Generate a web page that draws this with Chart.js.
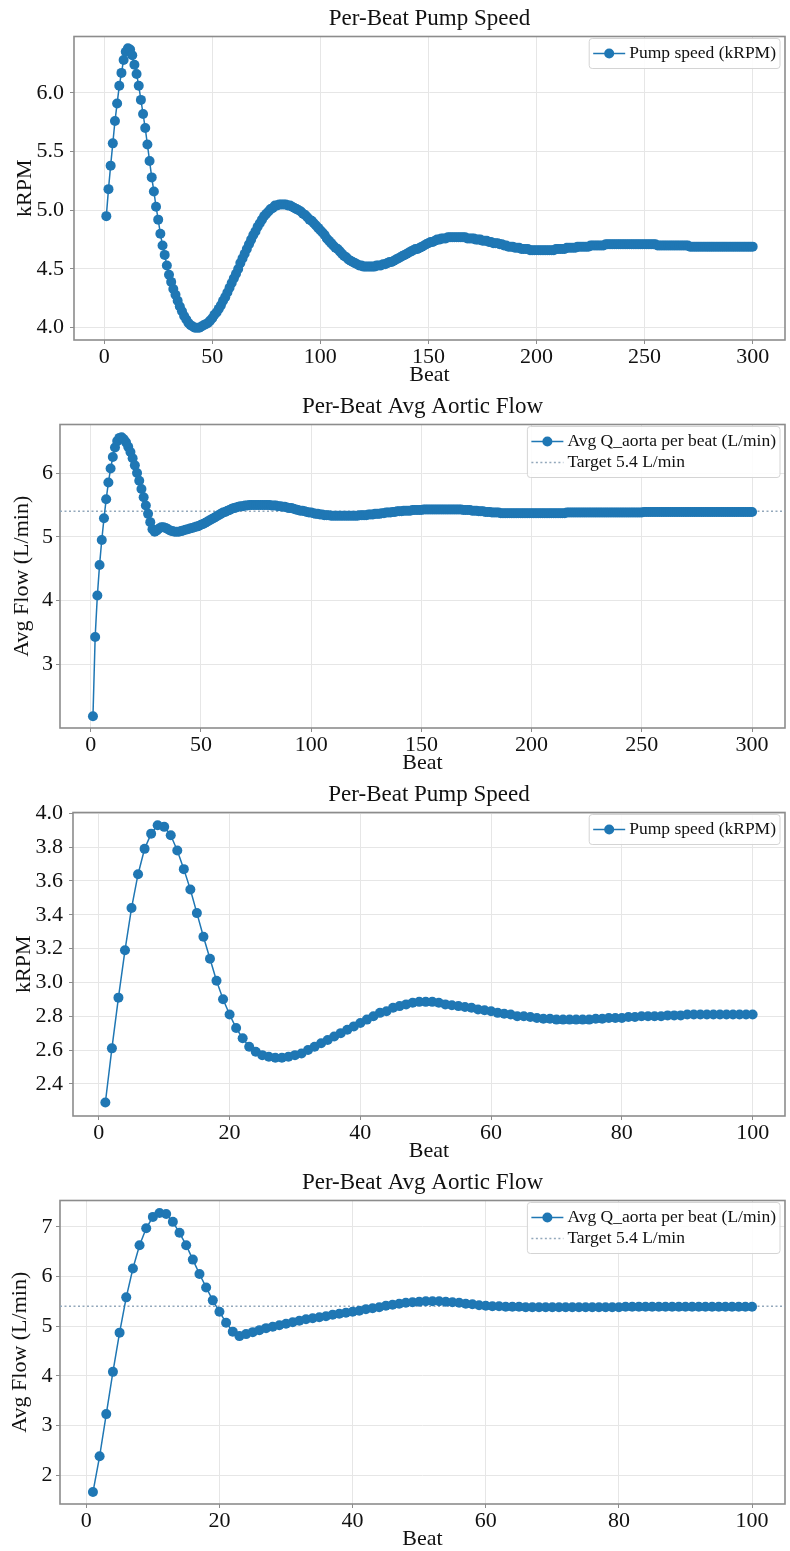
<!DOCTYPE html>
<html>
<head>
<meta charset="utf-8">
<title>Per-Beat Pump Speed and Aortic Flow</title>
<script src="https://cdn.jsdelivr.net/npm/chart.js"></script>
<style>
  html, body { margin: 0; padding: 0; background: #fff; }
  .panel { position: absolute; left: 0; width: 790px; height: 388px; }
</style>
</head>
<body>
<div class="panel" style="top:0px"><canvas id="speedLong" width="790" height="388"></canvas></div>
<div class="panel" style="top:388px"><canvas id="flowLong" width="790" height="388"></canvas></div>
<div class="panel" style="top:776px"><canvas id="speedShort" width="790" height="388"></canvas></div>
<div class="panel" style="top:1164px"><canvas id="flowShort" width="790" height="388"></canvas></div>
<script>
// Data (one value per beat, beat 1 first)
const pumpSpeed300 = [
  4.95, 5.18, 5.38, 5.57, 5.76, 5.91, 6.06, 6.17, 6.28, 6.35,
  6.38, 6.37, 6.32, 6.24, 6.16, 6.06, 5.94, 5.82, 5.70, 5.56,
  5.42, 5.28, 5.16, 5.03, 4.92, 4.80, 4.70, 4.62, 4.53, 4.45,
  4.39, 4.33, 4.28, 4.23, 4.18, 4.14, 4.10, 4.07, 4.04, 4.02,
  4.01, 4.00, 4.00, 4.00, 4.01, 4.02, 4.03, 4.04, 4.06, 4.08,
  4.11, 4.13, 4.16, 4.19, 4.23, 4.26, 4.30, 4.34, 4.38, 4.42,
  4.46, 4.50, 4.55, 4.59, 4.63, 4.67, 4.71, 4.75, 4.79, 4.82,
  4.86, 4.89, 4.92, 4.95, 4.97, 4.99, 5.01, 5.02, 5.04, 5.04,
  5.05, 5.05, 5.05, 5.05, 5.04, 5.04, 5.03, 5.02, 5.01, 5.00,
  4.99, 4.97, 4.96, 4.94, 4.92, 4.91, 4.89, 4.87, 4.85, 4.83,
  4.81, 4.79, 4.76, 4.74, 4.72, 4.70, 4.68, 4.67, 4.65, 4.63,
  4.61, 4.60, 4.58, 4.57, 4.56, 4.55, 4.54, 4.53, 4.53, 4.52,
  4.52, 4.52, 4.52, 4.52, 4.52, 4.53, 4.53, 4.53, 4.54, 4.54,
  4.55, 4.56, 4.56, 4.57, 4.58, 4.59, 4.60, 4.61, 4.62, 4.63,
  4.64, 4.65, 4.66, 4.67, 4.67, 4.68, 4.69, 4.70, 4.71, 4.72,
  4.73, 4.73, 4.74, 4.75, 4.75, 4.76, 4.76, 4.76, 4.77, 4.77,
  4.77, 4.77, 4.77, 4.77, 4.77, 4.77, 4.77, 4.76, 4.76, 4.76,
  4.76, 4.75, 4.75, 4.75, 4.74, 4.74, 4.74, 4.73, 4.73, 4.72,
  4.72, 4.72, 4.71, 4.71, 4.70, 4.70, 4.69, 4.69, 4.69, 4.68,
  4.68, 4.68, 4.67, 4.67, 4.67, 4.67, 4.66, 4.66, 4.66, 4.66,
  4.66, 4.66, 4.66, 4.66, 4.66, 4.66, 4.66, 4.66, 4.67, 4.67,
  4.67, 4.67, 4.67, 4.68, 4.68, 4.68, 4.68, 4.68, 4.69, 4.69,
  4.69, 4.69, 4.69, 4.69, 4.70, 4.70, 4.70, 4.70, 4.70, 4.70,
  4.70, 4.71, 4.71, 4.71, 4.71, 4.71, 4.71, 4.71, 4.71, 4.71,
  4.71, 4.71, 4.71, 4.71, 4.71, 4.71, 4.71, 4.71, 4.71, 4.71,
  4.71, 4.71, 4.71, 4.71, 4.71, 4.70, 4.70, 4.70, 4.70, 4.70,
  4.70, 4.70, 4.70, 4.70, 4.70, 4.70, 4.70, 4.70, 4.70, 4.70,
  4.69, 4.69, 4.69, 4.69, 4.69, 4.69, 4.69, 4.69, 4.69, 4.69,
  4.69, 4.69, 4.69, 4.69, 4.69, 4.69, 4.69, 4.69, 4.69, 4.69,
  4.69, 4.69, 4.69, 4.69, 4.69, 4.69, 4.69, 4.69, 4.69, 4.69,
];

const aorticFlow300 = [
  2.19, 3.43, 4.08, 4.56, 4.95, 5.29, 5.59, 5.85, 6.07, 6.25,
  6.40, 6.50, 6.55, 6.56, 6.53, 6.48, 6.41, 6.33, 6.23, 6.12,
  6.00, 5.88, 5.75, 5.62, 5.49, 5.36, 5.23, 5.12, 5.08, 5.10,
  5.13, 5.15, 5.15, 5.14, 5.12, 5.10, 5.09, 5.08, 5.08, 5.08,
  5.09, 5.10, 5.11, 5.12, 5.13, 5.14, 5.15, 5.16, 5.17, 5.19,
  5.20, 5.22, 5.24, 5.26, 5.28, 5.30, 5.32, 5.34, 5.36, 5.38,
  5.39, 5.41, 5.42, 5.44, 5.45, 5.46, 5.47, 5.48, 5.48, 5.49,
  5.49, 5.50, 5.50, 5.50, 5.50, 5.50, 5.50, 5.50, 5.50, 5.50,
  5.50, 5.49, 5.49, 5.49, 5.48, 5.48, 5.47, 5.47, 5.46, 5.45,
  5.45, 5.44, 5.43, 5.42, 5.41, 5.41, 5.40, 5.39, 5.38, 5.38,
  5.37, 5.36, 5.36, 5.35, 5.35, 5.34, 5.34, 5.34, 5.33, 5.33,
  5.33, 5.33, 5.33, 5.33, 5.33, 5.33, 5.33, 5.33, 5.33, 5.33,
  5.33, 5.34, 5.34, 5.34, 5.34, 5.35, 5.35, 5.35, 5.36, 5.36,
  5.36, 5.37, 5.37, 5.38, 5.38, 5.38, 5.39, 5.39, 5.40, 5.40,
  5.40, 5.41, 5.41, 5.41, 5.41, 5.42, 5.42, 5.42, 5.42, 5.42,
  5.43, 5.43, 5.43, 5.43, 5.43, 5.43, 5.43, 5.43, 5.43, 5.43,
  5.43, 5.43, 5.43, 5.43, 5.43, 5.43, 5.43, 5.43, 5.42, 5.42,
  5.42, 5.42, 5.41, 5.41, 5.41, 5.40, 5.40, 5.40, 5.39, 5.39,
  5.39, 5.38, 5.38, 5.38, 5.38, 5.37, 5.37, 5.37, 5.37, 5.37,
  5.37, 5.37, 5.37, 5.37, 5.37, 5.37, 5.37, 5.37, 5.37, 5.37,
  5.37, 5.37, 5.37, 5.37, 5.37, 5.37, 5.37, 5.37, 5.37, 5.37,
  5.37, 5.37, 5.37, 5.37, 5.37, 5.38, 5.38, 5.38, 5.38, 5.38,
  5.38, 5.38, 5.38, 5.38, 5.38, 5.38, 5.38, 5.38, 5.38, 5.38,
  5.38, 5.38, 5.38, 5.38, 5.38, 5.38, 5.38, 5.38, 5.38, 5.38,
  5.38, 5.38, 5.38, 5.38, 5.38, 5.38, 5.38, 5.38, 5.38, 5.38,
  5.39, 5.39, 5.39, 5.39, 5.39, 5.39, 5.39, 5.39, 5.39, 5.39,
  5.39, 5.39, 5.39, 5.39, 5.39, 5.39, 5.39, 5.39, 5.39, 5.39,
  5.39, 5.39, 5.39, 5.39, 5.39, 5.39, 5.39, 5.39, 5.39, 5.39,
  5.39, 5.39, 5.39, 5.39, 5.39, 5.39, 5.39, 5.39, 5.39, 5.39,
  5.39, 5.39, 5.39, 5.39, 5.39, 5.39, 5.39, 5.39, 5.39, 5.39,
];

const pumpSpeed100 = [
  2.29, 2.61, 2.91, 3.19, 3.44, 3.64, 3.79, 3.88, 3.93, 3.92,
  3.87, 3.78, 3.67, 3.55, 3.41, 3.27, 3.14, 3.01, 2.90, 2.81,
  2.73, 2.67, 2.62, 2.59, 2.57, 2.56, 2.555, 2.555, 2.56, 2.57,
  2.58, 2.60, 2.62, 2.64, 2.66, 2.68, 2.70, 2.72, 2.74, 2.76,
  2.78, 2.80, 2.82, 2.83, 2.85, 2.86, 2.87, 2.88, 2.885, 2.885,
  2.885, 2.88, 2.87, 2.865, 2.86, 2.855, 2.85, 2.84, 2.835, 2.83,
  2.82, 2.815, 2.81, 2.80, 2.80, 2.795, 2.79, 2.785, 2.785, 2.78,
  2.78, 2.78, 2.78, 2.78, 2.78, 2.785, 2.785, 2.79, 2.79, 2.79,
  2.795, 2.795, 2.80, 2.80, 2.80, 2.80, 2.805, 2.805, 2.805, 2.81,
  2.81, 2.81, 2.81, 2.81, 2.81, 2.81, 2.81, 2.81, 2.81, 2.81,
];

const aorticFlow100 = [
  1.66, 2.38, 3.23, 4.08, 4.87, 5.58, 6.16, 6.63, 6.97, 7.20,
  7.28, 7.26, 7.10, 6.88, 6.63, 6.34, 6.05, 5.78, 5.52, 5.29,
  5.07, 4.89, 4.80, 4.84, 4.88, 4.92, 4.96, 4.99, 5.02, 5.05,
  5.08, 5.11, 5.14, 5.16, 5.18, 5.20, 5.23, 5.25, 5.27, 5.29,
  5.31, 5.34, 5.36, 5.38, 5.41, 5.43, 5.45, 5.47, 5.48, 5.49,
  5.50, 5.50, 5.50, 5.49, 5.48, 5.47, 5.45, 5.44, 5.42, 5.41,
  5.40, 5.40, 5.39, 5.39, 5.39, 5.38, 5.38, 5.38, 5.38, 5.38,
  5.38, 5.38, 5.38, 5.38, 5.38, 5.38, 5.38, 5.38, 5.38, 5.38,
  5.39, 5.39, 5.39, 5.39, 5.39, 5.39, 5.39, 5.39, 5.39, 5.39,
  5.39, 5.39, 5.39, 5.39, 5.39, 5.39, 5.39, 5.39, 5.39, 5.39,
];

// Beat numbers (x categories)
const beats300 = pumpSpeed300.map((_, i) => i + 1);
const beats100 = pumpSpeed100.map((_, i) => i + 1);

const TARGET_FLOW = 5.4;
const SPEED_LABEL = "Pump speed (kRPM)";
const FLOW_LABEL = "Avg Q_aorta per beat (L/min)";
const TARGET_LABEL = "Target 5.4 L/min";
const SPEED_TITLE = "Per-Beat Pump Speed";
const FLOW_TITLE = "Per-Beat Avg Aortic Flow";

// Styling
const FONT = "'Liberation Serif', 'Times New Roman', Times, serif";
const BLUE = "#1f77b4";
const TEXT = "#111111";
const GRID = "#e6e6e6";
const FRAME = "#8c8c8c";

Chart.defaults.font.family = FONT;
Chart.defaults.color = TEXT;

// Plot frame on all four sides
const frameBox = {
  id: "frameBox",
  beforeDatasetsDraw(chart) {
    const { ctx, chartArea: a } = chart;
    ctx.save();
    ctx.strokeStyle = FRAME;
    ctx.lineWidth = 1.6;
    ctx.strokeRect(a.left, a.top, a.right - a.left, a.bottom - a.top);
    ctx.restore();
  },
};

// Legend drawn inside the plot, upper right
const insideLegend = {
  id: "insideLegend",
  afterDatasetsDraw(chart) {
    const { ctx, chartArea: a } = chart;
    const sets = chart.data.datasets;
    ctx.save();
    ctx.font = `17.5px ${FONT}`;
    const textW = Math.max(...sets.map((d) => ctx.measureText(d.label).width));
    const padX = 4, padY = 4.5, rowH = 21, sampleW = 32, gap = 4;
    const w = padX + sampleW + gap + textW + padX;
    const h = padY * 2 + rowH * sets.length;
    const x0 = a.right - 5 - w;
    const y0 = a.top + 2;

    ctx.beginPath();
    ctx.roundRect(x0, y0, w, h, 3);
    ctx.fillStyle = "rgba(255,255,255,0.85)";
    ctx.fill();
    ctx.strokeStyle = "#d4d4d4";
    ctx.lineWidth = 1;
    ctx.stroke();

    sets.forEach((d, i) => {
      const cy = y0 + padY + rowH * i + rowH / 2;
      ctx.strokeStyle = d.borderColor;
      ctx.lineWidth = d.borderWidth;
      ctx.setLineDash(d.borderDash || []);
      ctx.beginPath();
      ctx.moveTo(x0 + padX, cy);
      ctx.lineTo(x0 + padX + sampleW, cy);
      ctx.stroke();
      ctx.setLineDash([]);
      if (d.pointRadius > 0) {
        ctx.fillStyle = d.pointBackgroundColor;
        ctx.beginPath();
        ctx.arc(x0 + padX + sampleW / 2, cy, d.pointRadius, 0, Math.PI * 2);
        ctx.fill();
      }
      ctx.fillStyle = TEXT;
      ctx.textAlign = "left";
      ctx.textBaseline = "middle";
      ctx.fillText(d.label, x0 + padX + sampleW + gap, cy);
    });
    ctx.restore();
  },
};

// Dataset builders
const seriesLine = (label, beats, values) => ({
  label,
  data: beats.map((b, i) => ({ x: b, y: values[i] })),
  borderColor: BLUE,
  borderWidth: 1.5,
  pointRadius: 5,
  pointBackgroundColor: BLUE,
  pointBorderWidth: 0,
  pointHoverRadius: 5,
  tension: 0,
});

const targetLine = (xMin, xMax) => ({
  label: TARGET_LABEL,
  data: [
    { x: xMin, y: TARGET_FLOW },
    { x: xMax, y: TARGET_FLOW },
  ],
  borderColor: "#93a8bb",
  borderWidth: 1.6,
  borderDash: [2, 2.5],
  pointRadius: 0,
  tension: 0,
});

// Chart builder
const buildChart = (id, opts) => {
  const ctx = document.getElementById(id).getContext("2d");
  return new Chart(ctx, {
    type: "line",
    data: { datasets: opts.datasets },
    options: {
      responsive: false,
      animation: false,
      devicePixelRatio: 1,
      parsing: false,
      layout: { padding: { left: 0, right: 1.5, top: 0, bottom: 0 } },
      plugins: {
        legend: { display: false },
        tooltip: { enabled: false },
        title: {
          display: true,
          fullSize: false,
          text: opts.title,
          color: TEXT,
          font: { size: 23, weight: "normal", family: FONT },
          padding: { top: 5, bottom: 3.9 },
        },
      },
      scales: {
        x: {
          type: "linear",
          min: opts.xMin,
          max: opts.xMax,
          afterFit: (scale) => { scale.height = 48; },
          border: { display: false },
          grid: { color: GRID, lineWidth: 1, tickLength: 4, tickColor: FRAME },
          ticks: {
            stepSize: opts.xStep,
            includeBounds: false,
            padding: 0,
            maxRotation: 0,
            color: TEXT,
            font: { size: 22, family: FONT },
          },
          title: {
            display: true,
            text: "Beat",
            color: TEXT,
            font: { size: 22, family: FONT },
            padding: { top: 0, bottom: 0 },
          },
        },
        y: {
          type: "linear",
          min: opts.yMin,
          max: opts.yMax,
          afterFit: (scale) => { scale.width = opts.plotLeft; },
          border: { display: false },
          grid: { color: GRID, lineWidth: 1, tickLength: 4, tickColor: FRAME },
          ticks: {
            stepSize: opts.yStep,
            includeBounds: false,
            padding: opts.yTickPad,
            color: TEXT,
            font: { size: 22, family: FONT },
            callback: (v) => Number(v).toFixed(opts.yDigits),
          },
          title: {
            display: true,
            text: opts.yTitle,
            color: TEXT,
            font: { size: 22, family: FONT },
            padding: { top: opts.yTitlePad, bottom: 0 },
          },
        },
      },
    },
    plugins: [frameBox, insideLegend],
  });
};

document.addEventListener("DOMContentLoaded", () => {
  buildChart("speedLong", {
    title: SPEED_TITLE,
    yTitle: "kRPM",
    datasets: [seriesLine(SPEED_LABEL, beats300, pumpSpeed300)],
    xMin: -13.95, xMax: 314.95, xStep: 50,
    yMin: 3.895, yMax: 6.48, yStep: 0.5, yDigits: 1,
    plotLeft: 74, yTickPad: 6, yTitlePad: 11.8,
  });

  buildChart("flowLong", {
    title: FLOW_TITLE,
    yTitle: "Avg Flow (L/min)",
    datasets: [
      seriesLine(FLOW_LABEL, beats300, aorticFlow300),
      targetLine(-13.95, 314.95),
    ],
    xMin: -13.95, xMax: 314.95, xStep: 50,
    yMin: 2.005, yMax: 6.76, yStep: 1, yDigits: 0,
    plotLeft: 60, yTickPad: 3, yTitlePad: 8.8,
  });

  buildChart("speedShort", {
    title: SPEED_TITLE,
    yTitle: "kRPM",
    datasets: [seriesLine(SPEED_LABEL, beats100, pumpSpeed100)],
    xMin: -3.95, xMax: 104.95, xStep: 20,
    yMin: 2.21, yMax: 4.005, yStep: 0.2, yDigits: 1,
    plotLeft: 73, yTickPad: 6, yTitlePad: 10.8,
  });

  buildChart("flowShort", {
    title: FLOW_TITLE,
    yTitle: "Avg Flow (L/min)",
    datasets: [
      seriesLine(FLOW_LABEL, beats100, aorticFlow100),
      targetLine(-3.95, 104.95),
    ],
    xMin: -3.95, xMax: 104.95, xStep: 20,
    yMin: 1.42, yMax: 7.53, yStep: 1, yDigits: 0,
    plotLeft: 60, yTickPad: 3.5, yTitlePad: 7.3,
  });
});
</script>
</body>
</html>
